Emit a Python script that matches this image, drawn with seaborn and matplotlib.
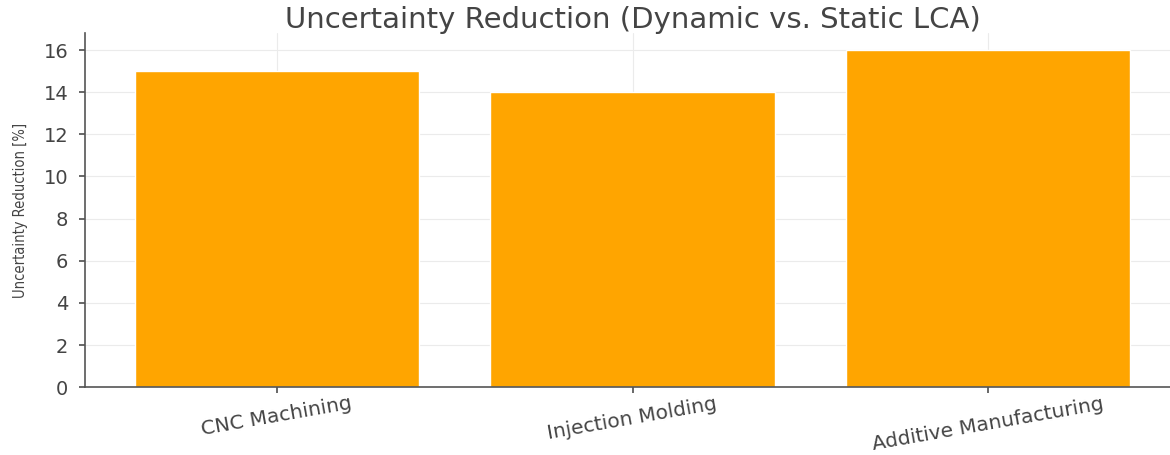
import matplotlib
matplotlib.use("Agg")
import pandas as pd
import seaborn as sns
import matplotlib.pyplot as plt

# chart data
processes = ["CNC Machining", "Injection Molding", "Additive Manufacturing"]
reduction = [15, 14, 16]

df = pd.DataFrame({"process": processes, "reduction": reduction})

sns.set_theme(style="whitegrid")
plt.rcParams["font.family"] = ["DejaVu Sans"]

fig = plt.figure(figsize=(11.7, 4.55), dpi=100)
ax = fig.add_axes([0.0726, 0.149, 0.936, 0.778])

sns.barplot(data=df, x="process", y="reduction", color="#FFA500",
            saturation=1, width=0.8, ax=ax)

ax.set_title("Uncertainty Reduction (Dynamic vs. Static LCA)",
             fontsize=21, color="#444444", pad=4)
ax.set_xlabel("")
ax.set_ylabel("Uncertainty Reduction [%]", fontsize=10.5, color="#444444",
              fontstretch="condensed", labelpad=11)
ax.set_yticks(range(0, 17, 2))
ax.tick_params(axis="x", labelsize=14.5, labelcolor="#444444",
               length=4, color="#555555", bottom=True, pad=1)
for lab in ax.get_xticklabels():
    lab.set_rotation(10)
    lab.set_ha("center")
ax.tick_params(axis="y", labelsize=14, labelcolor="#444444",
               length=4, color="#555555", left=True, pad=8)
ax.margins(x=0.05)

ax.grid(True, color="#ebebeb", linewidth=0.8)
ax.set_axisbelow(True)
for side in ["top", "right"]:
    ax.spines[side].set_visible(False)
for side in ["left", "bottom"]:
    ax.spines[side].set_color("#555555")
    ax.spines[side].set_linewidth(1.2)

fig.savefig("out.png", dpi=100)
